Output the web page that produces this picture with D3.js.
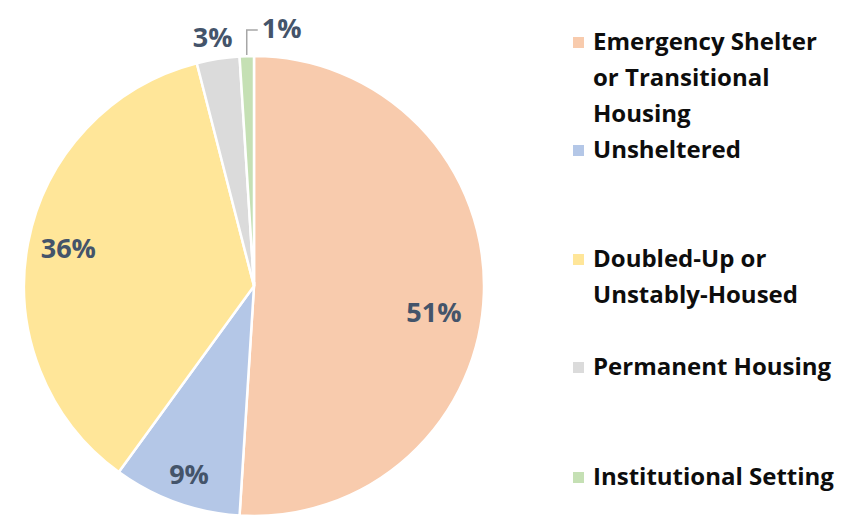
<!DOCTYPE html>
<html>
<head>
<meta charset="utf-8">
<script src="https://cdn.jsdelivr.net/npm/d3@7"></script>
<style>
  body { margin: 0; background: #fff; }
  svg text { font-family: "Open Sans", Lato, sans-serif; font-weight: 700; }
</style>
</head>
<body>
<div id="chart"></div>
<script>
// Housing situation shares (percent), clockwise from 12 o'clock
const categories = [
  ['Emergency Shelter', 'or Transitional', 'Housing'],
  ['Unsheltered'],
  ['Doubled-Up or', 'Unstably-Housed'],
  ['Permanent Housing'],
  ['Institutional Setting']
];
const values = [51, 9, 36, 3, 1];
const colors = ['#F8CBAD', '#B4C7E7', '#FFE699', '#DBDBDB', '#C5E0B4'];

const width = 852, height = 516;
const cx = 254, cy = 286, R = 230;

const svg = d3.select('#chart').append('svg')
  .attr('width', width)
  .attr('height', height);

const pie = d3.pie().sort(null).value(d => d);
const arcs = pie(values);
const arc = d3.arc().innerRadius(0).outerRadius(R);

const g = svg.append('g').attr('transform', `translate(${cx},${cy})`);

g.selectAll('path.slice')
  .data(arcs)
  .join('path')
    .attr('class', 'slice')
    .attr('d', arc)
    .attr('fill', (d, i) => colors[i])
    .attr('stroke', '#fff')
    .attr('stroke-width', 2.5);

// label placement: inside for big slices, outside for the small ones
const inner = d3.arc().innerRadius(186).outerRadius(186);
const outer = d3.arc().innerRadius(252).outerRadius(252);
const nudge = [[-6, 21], [-2, 14], [-3, -3], [-2, 0], [0, 0]];

arcs.forEach((d, i) => {
  const pct = values[i] + '%';
  if (i === 4) {
    // leader line for the 1% sliver
    const a = (d.startAngle + d.endAngle) / 2;
    const x0 = (R + 1) * Math.sin(a), y0 = -(R + 1) * Math.cos(a);
    const yTop = -256;
    g.append('path')
      .attr('d', `M${x0},${y0}V${yTop}H${x0 + 11}`)
      .attr('fill', 'none')
      .attr('stroke', '#A6A6A6')
      .attr('stroke-width', 1.5);
    g.append('text')
      .attr('x', x0 + 15)
      .attr('y', yTop - 1)
      .attr('dy', '0.35em')
      .attr('fill', '#44546A')
      .style('font-size', '27px')
      .text(pct);
    return;
  }
  const c = (values[i] < 5 ? outer : inner).centroid(d);
  g.append('text')
    .attr('x', c[0] + nudge[i][0])
    .attr('y', c[1] + nudge[i][1])
    .attr('dy', '0.35em')
    .attr('text-anchor', 'middle')
    .attr('fill', '#44546A')
    .style('font-size', '27px')
    .text(pct);
});

// legend
const legendX = 573;
const lineH = 36;
const legendTop = [42, 150, 259, 367, 477];
const legend = svg.append('g');
categories.forEach((lines, i) => {
  legend.append('rect')
    .attr('x', legendX)
    .attr('y', legendTop[i] - 5)
    .attr('width', 11)
    .attr('height', 11)
    .attr('fill', colors[i]);
  const t = legend.append('text')
    .attr('x', legendX + 20)
    .attr('y', legendTop[i])
    .attr('fill', '#0D0D0D')
    .style('font-size', '24px');
  lines.forEach((s, j) => {
    t.append('tspan')
      .attr('x', legendX + 20)
      .attr('dy', j === 0 ? '0.35em' : lineH)
      .text(s);
  });
});
</script>
</body>
</html>
